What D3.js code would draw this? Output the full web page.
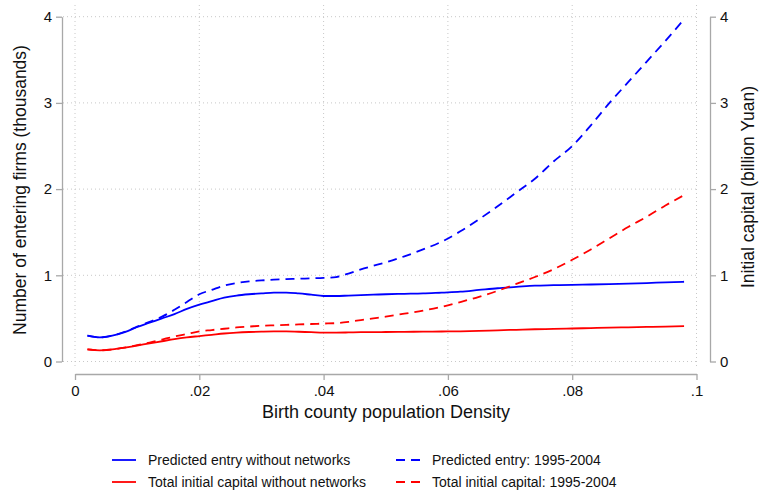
<!DOCTYPE html>
<html>
<head>
<meta charset="utf-8">
<script src="https://cdn.jsdelivr.net/npm/d3@7"></script>
<style>
  html, body { margin: 0; padding: 0; background: #fff; }
  svg { display: block; font-family: "Liberation Sans", Arial, sans-serif; }
</style>
</head>
<body>
<svg id="chart" width="760" height="491"></svg>
<script>
// Birth county population density (x) grid
const density = [0.002, 0.004, 0.006, 0.008, 0.010, 0.012, 0.014, 0.016, 0.018, 0.020,
  0.022, 0.024, 0.026, 0.028, 0.030, 0.032, 0.034, 0.036, 0.038, 0.040,
  0.042, 0.044, 0.046, 0.048, 0.050, 0.053, 0.056, 0.059, 0.062, 0.065,
  0.068, 0.071, 0.074, 0.077, 0.080, 0.083, 0.086, 0.089, 0.092, 0.095, 0.098];

// Predicted entry without networks (thousands of firms)
const entryNoNetworks = [0.30, 0.28, 0.30, 0.34, 0.40, 0.45, 0.50, 0.55, 0.61, 0.66,
  0.70, 0.74, 0.765, 0.78, 0.79, 0.80, 0.80, 0.79, 0.775, 0.76,
  0.76, 0.765, 0.77, 0.775, 0.78, 0.785, 0.79, 0.80, 0.81, 0.83,
  0.85, 0.865, 0.88, 0.885, 0.89, 0.893, 0.897, 0.903, 0.91, 0.918, 0.925];

// Predicted entry: 1995-2004 (thousands of firms)
const entry9504 = [0.30, 0.28, 0.30, 0.345, 0.405, 0.46, 0.52, 0.60, 0.69, 0.78,
  0.83, 0.88, 0.91, 0.93, 0.94, 0.95, 0.955, 0.96, 0.965, 0.97,
  0.98, 1.02, 1.07, 1.11, 1.15, 1.22, 1.30, 1.39, 1.51, 1.65,
  1.80, 1.96, 2.12, 2.32, 2.50, 2.74, 3.00, 3.24, 3.48, 3.72, 3.97];

// Total initial capital without networks (billion Yuan)
const capitalNoNetworks = [0.14, 0.13, 0.14, 0.16, 0.185, 0.21, 0.235, 0.26, 0.28, 0.295,
  0.31, 0.325, 0.335, 0.342, 0.347, 0.35, 0.35, 0.345, 0.34, 0.335,
  0.335, 0.337, 0.34, 0.34, 0.342, 0.344, 0.346, 0.348, 0.35, 0.355,
  0.362, 0.368, 0.374, 0.378, 0.383, 0.388, 0.393, 0.397, 0.401, 0.405, 0.41];

// Total initial capital: 1995-2004 (billion Yuan)
const capital9504 = [0.14, 0.13, 0.14, 0.16, 0.19, 0.22, 0.255, 0.29, 0.32, 0.35,
  0.365, 0.38, 0.395, 0.405, 0.415, 0.42, 0.425, 0.43, 0.435, 0.44,
  0.445, 0.46, 0.48, 0.50, 0.52, 0.555, 0.59, 0.635, 0.69, 0.75,
  0.82, 0.90, 0.98, 1.07, 1.18, 1.30, 1.43, 1.56, 1.68, 1.81, 1.93];

const xTicks = [0, 0.02, 0.04, 0.06, 0.08, 0.1];
const xTickLabels = ["0", ".02", ".04", ".06", ".08", ".1"];
const yTicks = [0, 1, 2, 3, 4];

const legendLabels = [
  "Predicted entry without networks",
  "Predicted entry: 1995-2004",
  "Total initial capital without networks",
  "Total initial capital: 1995-2004"
];

const svg = d3.select("#chart");
const axisGrey = "#a8a8a8";
const gridGrey = "#c8c8c8";

const x = d3.scaleLinear().domain([0, 0.1]).range([75, 696.5]);
const yLeft = d3.scaleLinear().domain([0, 4]).range([361.5, 16.7]);
const yRight = d3.scaleLinear().domain([0, 4]).range([361.5, 16.7]);

// Grid
const grid = svg.append("g");
grid.selectAll("line.h").data(yTicks).join("line")
  .attr("x1", 63).attr("x2", 699)
  .attr("y1", d => yLeft(d)).attr("y2", d => yLeft(d))
  .attr("stroke", gridGrey).attr("stroke-width", 1).attr("stroke-dasharray", "1,3");
grid.selectAll("line.v").data(xTicks).join("line")
  .attr("x1", d => x(d)).attr("x2", d => x(d))
  .attr("y1", 5).attr("y2", 368)
  .attr("stroke", gridGrey).attr("stroke-width", 1).attr("stroke-dasharray", "1,3");

function styleAxis(g) {
  g.select(".domain").attr("stroke", axisGrey).attr("stroke-width", 1.3);
  g.selectAll(".tick line").attr("stroke", axisGrey).attr("stroke-width", 1.3);
  g.selectAll(".tick text").attr("fill", "#111").style("font-size", "15px")
    .style("font-family", "'Liberation Sans', Arial, sans-serif");
}

// Left axis
svg.append("g").attr("transform", "translate(62,0)")
  .call(d3.axisLeft(yLeft).tickValues(yTicks).tickFormat(d3.format("d")).tickSize(6).tickSizeOuter(0).tickPadding(4))
  .call(styleAxis);

// Right axis
svg.append("g").attr("transform", "translate(710,0)")
  .call(d3.axisRight(yRight).tickValues(yTicks).tickFormat(d3.format("d")).tickSize(6).tickSizeOuter(0).tickPadding(4))
  .call(styleAxis);

// Bottom axis
svg.append("g").attr("transform", "translate(0,374)")
  .call(d3.axisBottom(x).tickValues(xTicks).tickFormat((d, i) => xTickLabels[i]).tickSize(6).tickSizeOuter(0).tickPadding(5))
  .call(styleAxis);

// Axis titles
svg.append("text").attr("transform", "translate(26,190) rotate(-90)")
  .attr("text-anchor", "middle").style("font-size", "17.5px").attr("fill", "#111")
  .text("Number of entering firms (thousands)");
svg.append("text").attr("transform", "translate(754,187) rotate(-90)")
  .attr("text-anchor", "middle").style("font-size", "17.5px").attr("fill", "#111")
  .text("Initial capital (billion Yuan)");
svg.append("text").attr("x", 386).attr("y", 418)
  .attr("text-anchor", "middle").style("font-size", "18px").attr("fill", "#111")
  .text("Birth county population Density");

// Series
const series = [
  { values: entryNoNetworks, scale: yLeft, color: "#0000ff", dash: null },
  { values: entry9504, scale: yLeft, color: "#0000ff", dash: "9,6" },
  { values: capitalNoNetworks, scale: yRight, color: "#ff0000", dash: null },
  { values: capital9504, scale: yRight, color: "#ff0000", dash: "9,6" }
];

series.forEach(s => {
  const line = d3.line()
    .x((d, i) => x(density[i]))
    .y(d => s.scale(d))
    .curve(d3.curveMonotoneX);
  svg.append("path").datum(s.values)
    .attr("d", line)
    .attr("fill", "none")
    .attr("stroke", s.color)
    .attr("stroke-width", 1.8)
    .attr("stroke-dasharray", s.dash);
});

// Legend
const legendItems = [
  { label: legendLabels[0], color: "#0000ff", dash: null, lx: 112, ly: 460 },
  { label: legendLabels[1], color: "#0000ff", dash: "9,6", lx: 396, ly: 460 },
  { label: legendLabels[2], color: "#ff0000", dash: null, lx: 112, ly: 482 },
  { label: legendLabels[3], color: "#ff0000", dash: "9,6", lx: 396, ly: 482 }
];
const lg = svg.append("g");
legendItems.forEach(it => {
  lg.append("line")
    .attr("x1", it.lx).attr("x2", it.lx + 24)
    .attr("y1", it.ly).attr("y2", it.ly)
    .attr("stroke", it.color).attr("stroke-width", 1.8)
    .attr("stroke-dasharray", it.dash);
  lg.append("text")
    .attr("x", it.lx + 36).attr("y", it.ly + 5)
    .style("font-size", "14px").attr("fill", "#111")
    .text(it.label);
});
</script>
</body>
</html>
